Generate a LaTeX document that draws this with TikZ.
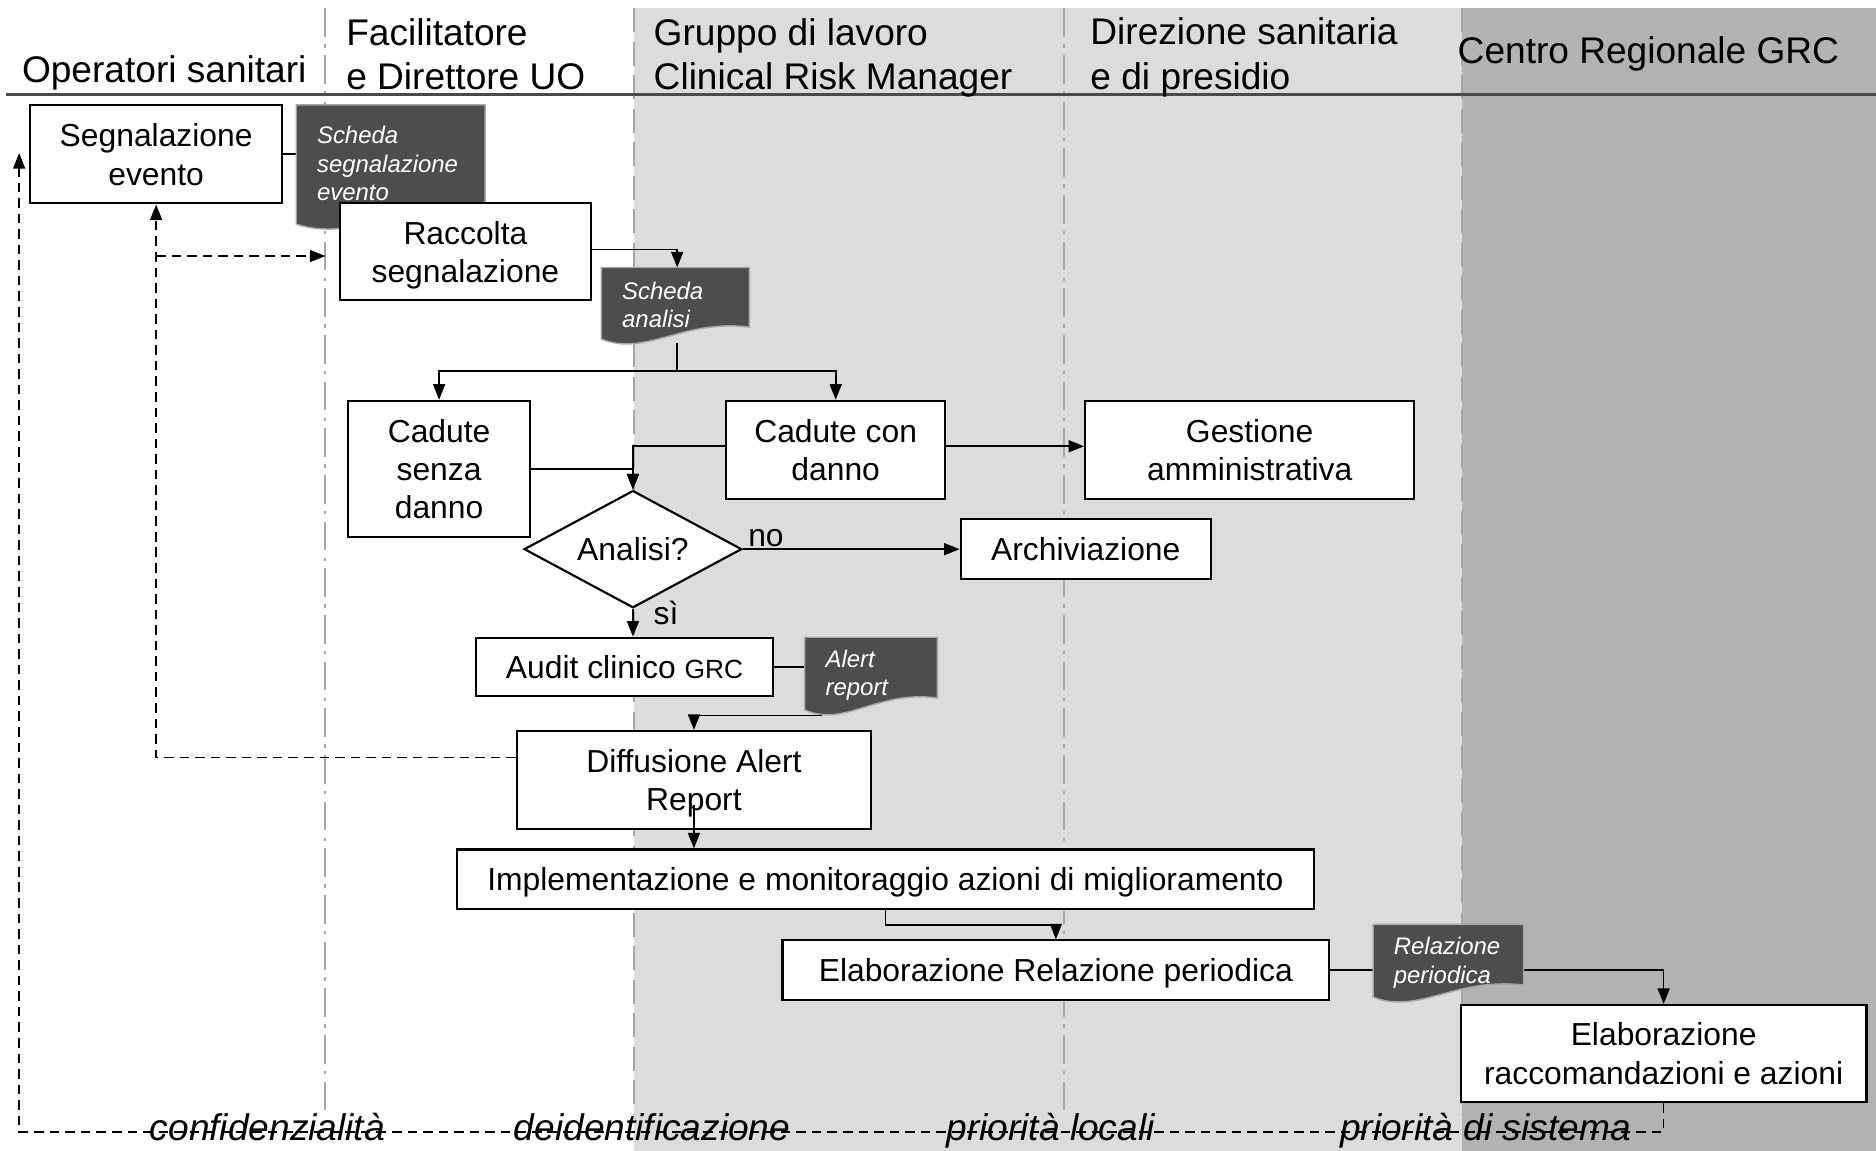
\documentclass[tikz,border=0pt]{standalone}
\usepackage{fontspec}
\setmainfont{Liberation Sans}
\usetikzlibrary{shapes.geometric,arrows.meta,calc}
\definecolor{lightbg}{HTML}{DCDCDC}
\definecolor{darkbg}{HTML}{B2B2B2}
\definecolor{docgray}{HTML}{4D4D4D}
\definecolor{lanegray}{HTML}{A8A8A8}
\definecolor{hdrline}{HTML}{4A4A4A}
\pgfdeclarelayer{bg}\pgfdeclarelayer{edges}\pgfdeclarelayer{docs}
\pgfsetlayers{bg,edges,docs,main}
\newcommand\mydocfill[1]{\begin{pgfonlayer}{docs}\path[docshape] (#1.north west) -- (#1.north east) -- ($(#1.south east)+(0,6.5pt)$) .. controls ($(#1.south west)!0.55!(#1.south east)+(0,10pt)$) and ($(#1.south west)!0.3!(#1.south east)+(0,-6pt)$) .. ($(#1.south west)+(0,1.5pt)$) -- cycle;\end{pgfonlayer}}
\begin{document}
\begin{tikzpicture}[x=0.5pt,y=-0.5pt,
 box/.style={draw, fill=white, line width=0.9pt, align=center, inner sep=2pt, text depth=-2pt, font=\fontsize{13.3pt}{16pt}\selectfont},
 doc/.style={inner xsep=8.5pt, inner ysep=0pt, align=left, text=white, font=\fontsize{10pt}{12pt}\selectfont\itshape},
 conn/.style={line width=0.7pt, -{Triangle[length=6.5pt,width=5pt]}},
 plainconn/.style={line width=0.7pt},
 dconn/.style={line width=0.7pt, dash pattern=on 4pt off 2.5pt, -{Triangle[length=6.5pt,width=5pt]}},
 hdr/.style={anchor=base west, font=\fontsize{15.5pt}{19pt}\selectfont, inner sep=0pt},
 btm/.style={anchor=base, font=\fontsize{15.5pt}{18pt}\selectfont\itshape, inner sep=0pt},
 lbl/.style={anchor=base west, font=\fontsize{13.3pt}{16pt}\selectfont, inner sep=0pt},
 lane/.style={lanegray, line width=0.8pt, dash pattern=on 12pt off 3pt on 1.5pt off 3pt},
 laneedge/.style={lanegray, line width=0.8pt, dash pattern=on 10pt off 4pt},
 docshape/.style={fill=docgray, draw=gray!70, line width=0.6pt}
]
\useasboundingbox (0,0) rectangle (1568,962);
% backgrounds
\begin{pgfonlayer}{bg}
\fill[white] (0,0) rectangle (1568,962);
\fill[lightbg] (530,7) rectangle (1222,962);
\fill[darkbg] (1222,7) rectangle (1568,962);
\draw[lane] (272,7) -- (272,932);
\draw[lane] (889,7) -- (889,932);
\draw[laneedge] (530,7) -- (530,932);
\draw[laneedge] (1222,7) -- (1222,932);
\draw[hdrline, line width=1.1pt] (5,79) -- (1568,79);
\end{pgfonlayer}
% headers
\node[hdr] (hOp) at (18,69) {Operatori sanitari};
\node[hdr] (hFa1) at (289,38) {Facilitatore};
\node[hdr] (hFa2) at (289,75) {e Direttore UO};
\node[hdr] (hGr1) at (546,38) {Gruppo di lavoro};
\node[hdr] (hGr2) at (546,75) {Clinical Risk Manager};
\node[hdr] (hDi1) at (911,37) {Direzione sanitaria};
\node[hdr] (hDi2) at (911,75) {e di presidio};
\node[hdr] (hCe) at (1218,53) {Centro Regionale GRC};
% documents
\node[doc, text width=61.5pt, minimum width=78.5pt, minimum height=51pt] (docA) at (326.5,139) {\raisebox{2.5pt}{\begin{tabular}{@{}l@{}}Scheda\\segnalazione\\evento\end{tabular}}};
\mydocfill{docA}
\node[doc, text width=44.5pt, minimum width=61.5pt, minimum height=31pt] (docB) at (564.5,255) {Scheda\\analisi};
\mydocfill{docB}
\node[doc, text width=38pt, minimum width=55pt, minimum height=31.5pt] (docC) at (728,564.5) {Alert\\report};
\mydocfill{docC}
\node[doc, text width=45.5pt, minimum width=62.5pt, minimum height=31.5pt] (docD) at (1210.5,804.5) {Relazione\\periodica};
\mydocfill{docD}
% boxes
\node[box, minimum width=105.5pt, minimum height=41pt] (seg) at (130.5,129) {Segnalazione\\evento};
\node[box, minimum width=105pt, minimum height=40.5pt] (racc) at (389,210.5) {Raccolta\\segnalazione};
\node[box, minimum width=76pt, minimum height=57pt] (senza) at (367,392) {Cadute\\senza\\danno};
\node[box, minimum width=91.5pt, minimum height=41pt] (con) at (698.5,376) {Cadute con\\danno};
\node[box, minimum width=137.5pt, minimum height=41pt] (gest) at (1044.5,376) {Gestione\\amministrativa};
\node[box, shape=diamond, aspect=1.857, minimum width=91pt, minimum height=49pt, inner sep=0pt] (anal) at (529,459) {Analisi?};
\node[box, minimum width=104.5pt, minimum height=25pt] (arch) at (907.5,459) {Archiviazione};
\node[box, minimum width=124pt, minimum height=24.5pt] (audit) at (522,557.5) {Audit clinico {\fontsize{11pt}{13pt}\selectfont GRC}};
\node[box, minimum width=148pt, minimum height=41pt] (diff) at (580,652) {Diffusione Alert\\Report};
\node[box, minimum width=358pt, minimum height=25pt] (impl) at (740,735) {Implementazione e monitoraggio azioni di miglioramento};
\node[box, minimum width=228.5pt, minimum height=25pt] (elab) at (882.5,811) {Elaborazione Relazione periodica};
\node[box, minimum width=169.5pt, minimum height=40.5pt] (racco) at (1390.5,880.5) {Elaborazione\\raccomandazioni e azioni};
% labels
\node[lbl] (lblno) at (625,457) {no};
\node[lbl] (lblsi) at (546,522) {sì};
% connectors
\coordinate (jA) at (130.5,214);
\coordinate (jB) at (272,214);
\coordinate (loopB) at (16,946);
\coordinate (loopTip) at (16,128);
\coordinate (split) at (566,310);
\coordinate (cC) at (686,598);
\begin{pgfonlayer}{edges}
\draw[plainconn] (seg.east) -- (seg.east -| docA.west);
\draw[dconn] ([yshift=9.5pt]diff.west) -| (seg.south);
\draw[dconn] (jA) -- (jB);
\draw[dconn] (racco.south) |- (loopB) -- (loopTip);
\draw[conn] ([yshift=1pt]racc.east) -| (docB.north -| split);
\draw[plainconn] (docB.south -| split) -- (split);
\draw[conn] (split) -| (senza.north);
\draw[conn] (split) -| (con.north);
\draw[conn] (senza.east) -| (anal.north);
\draw[conn] ([yshift=1.5pt]con.west) -| (anal.north);
\draw[conn] ([yshift=1.5pt]con.east) -- ([yshift=1.5pt]gest.west);
\draw[conn] (anal.east) -- (arch.west);
\draw[conn] (anal.south) -- (anal.south |- audit.north);
\draw[plainconn] (audit.east) -- (audit.east -| docC.west);
\draw[conn] (docC.south west -| cC) -- (cC) -| (diff.north);
\draw[conn] (impl.south) -- ++(0,12) -| (elab.north);
\draw[plainconn] (elab.east) -- (elab.east -| docD.west);
\draw[conn] (docD.east |- elab.east) -| (racco.north);
\end{pgfonlayer}
\draw[conn] ([yshift=10.5pt]diff.south) -- (diff.south |- impl.north);
% bottom labels
\node[btm] (bConf) at (223.5,953) {confidenzialità};
\node[btm] (bDeid) at (545,953) {deidentificazione};
\node[btm] (bLoc) at (878,953) {priorità locali};
\node[btm] (bSis) at (1241.5,953) {priorità di sistema};
\end{tikzpicture}
\end{document}
